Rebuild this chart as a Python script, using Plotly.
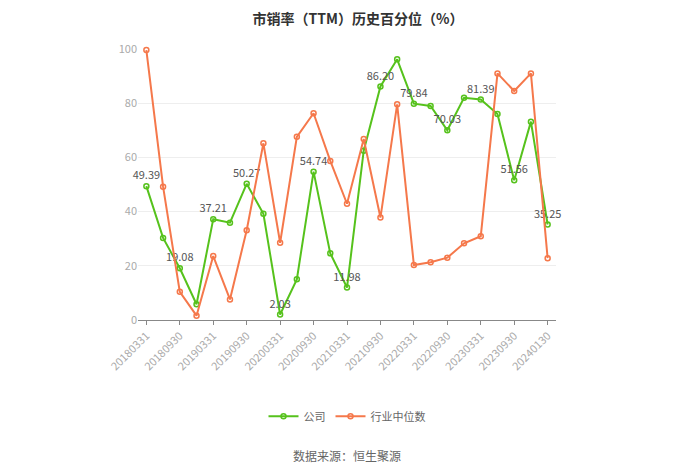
import plotly.graph_objects as go

# quarterly report dates
dates = ["20180331", "20180630", "20180930", "20181231",
         "20190331", "20190630", "20190930", "20191231",
         "20200331", "20200630", "20200930", "20201231",
         "20210331", "20210630", "20210930", "20211231",
         "20220331", "20220630", "20220930", "20221231",
         "20230331", "20230630", "20230930", "20231231",
         "20240130"]

company = [49.39, 30.3, 19.08, 5.8, 37.21, 35.9, 50.27, 39.2,
           2.03, 15.0, 54.74, 24.6, 11.98, 62.5, 86.20, 96.2,
           79.84, 79.0, 70.03, 82.0, 81.39, 76.0, 51.56, 73.2,
           35.25]

industry = [99.6, 49.2, 10.4, 1.6, 23.6, 7.6, 33.1, 65.2,
            28.5, 67.6, 76.3, 58.7, 42.9, 66.8, 37.8, 79.6,
            20.3, 21.3, 23.0, 28.3, 30.9, 91.0, 84.5, 91.0,
            22.8]

# only every other point gets a value label
company_text = [f"{v:.2f}" if i % 2 == 0 else "" for i, v in enumerate(company)]
tick_dates = dates[::2]

font_name = "Noto Sans CJK SC"
green = "#56c21c"
orange = "#f5784b"

fig = go.Figure()
fig.add_trace(go.Scatter(
    x=dates, y=company, name="公司", mode="lines+markers+text",
    text=company_text, textposition="top center", cliponaxis=False,
    textfont=dict(size=11, color="#555555"),
    line=dict(color=green, width=2),
    marker=dict(symbol="circle-open", size=5, color=green, line=dict(width=1.5)),
))
fig.add_trace(go.Scatter(
    x=dates, y=industry, name="行业中位数", mode="lines+markers", cliponaxis=False,
    line=dict(color=orange, width=2),
    marker=dict(symbol="circle-open", size=5, color=orange, line=dict(width=1.5)),
))

# the page puts the figure 8px in from the top-left, so margins are shifted
fig.update_layout(
    width=700, height=473,
    paper_bgcolor="white", plot_bgcolor="white",
    font=dict(family=font_name, color="#999999"),
    title=dict(text="<b>市销率（TTM）历史百分位（%）</b>", x=0.5, xanchor="center", y=0.986,
               yanchor="top", pad=dict(t=0, b=0),
               font=dict(size=14, color="#333333", family=font_name)),
    margin=dict(l=130, r=152, t=41, b=161),
    showlegend=True,
    legend=dict(orientation="h", x=0.5, xanchor="center", y=-0.355, yanchor="middle",
                font=dict(size=11, color="#666666")),
    annotations=[dict(text="数据来源：恒生聚源", x=0.5, xref="paper", y=-0.5, yref="paper",
                      showarrow=False, font=dict(size=12, color="#666666"),
                      xanchor="center", yanchor="middle")],
)
fig.update_xaxes(
    type="category", range=[-0.5, len(dates) - 0.5], automargin=False,
    tickvals=tick_dates, ticktext=tick_dates, tickangle=-45,
    tickfont=dict(size=11, color="#aaaaaa"),
    showgrid=False, showline=True, linecolor="#888888", linewidth=1,
    ticks="outside", ticklen=4, tickcolor="#888888",
)
fig.update_yaxes(
    range=[0, 100], dtick=20, automargin=False, tickfont=dict(size=11, color="#aaaaaa"),
    showgrid=True, gridcolor="#eeeeee", zeroline=False, showline=False,
)

fig.write_html("out.html")
